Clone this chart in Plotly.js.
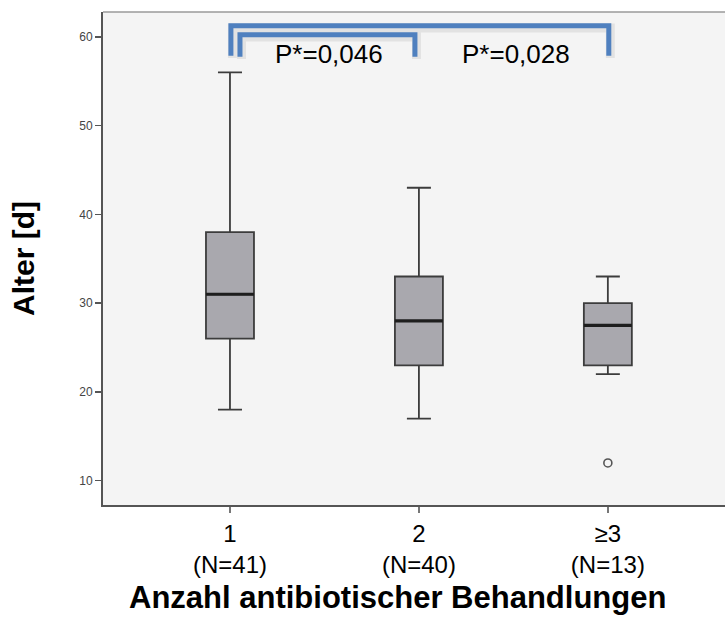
<!DOCTYPE html>
<html>
<head>
<meta charset="utf-8">
<script src="https://cdn.plot.ly/plotly-3.0.1.min.js"></script>
<style>
  html, body { margin: 0; padding: 0; background: #ffffff; }
  #chart { width: 725px; height: 621px; }
</style>
</head>
<body>
<div id="chart"></div>
<script>
// Age at treatment by number of antibiotic courses
const groups = ['1', '2', '≥3'];
const groupN = [41, 40, 13];
const upperWhisker = [56, 43, 33];
const q3 = [38, 33, 30];
const median = [31, 28, 27.5];
const q1 = [26, 23, 23];
const lowerWhisker = [18, 17, 22];
// outliers: [group index, value]
const outlierGroup = [2];
const outlierValue = [12];
const pValueLabels = ['P*=0,046', 'P*=0,028'];
const yTicks = [10, 20, 30, 40, 50, 60];

const FONT = 'Liberation Sans, Arial, Helvetica, sans-serif';
const BOX_W = 0.254;
const pos = groups.map((g, i) => i);

const boxTrace = {
  type: 'box',
  x: pos,
  q1: q1,
  median: median,
  q3: q3,
  lowerfence: lowerWhisker,
  upperfence: upperWhisker,
  width: BOX_W,
  whiskerwidth: 0.5,
  boxpoints: false,
  fillcolor: '#a9a8ae',
  line: { color: '#3c3c3c', width: 1.8 },
  showlegend: false,
  hoverinfo: 'y'
};

// heavier median bars drawn over each box
const medX = [], medY = [];
pos.forEach((p, i) => {
  medX.push(p - BOX_W / 2, p + BOX_W / 2, null);
  medY.push(median[i], median[i], null);
});
const medianTrace = {
  type: 'scatter', mode: 'lines',
  x: medX, y: medY,
  line: { color: '#1e1e1e', width: 3.2 },
  showlegend: false, hoverinfo: 'skip'
};

const outlierTrace = {
  type: 'scatter', mode: 'markers',
  x: outlierGroup, y: outlierValue,
  marker: { symbol: 'circle-open', size: 8, color: '#555555', line: { width: 1.6, color: '#555555' } },
  showlegend: false, hoverinfo: 'y'
};

// significance brackets between groups
function bracketPath(xa, xb, yTop, yBot) {
  return `M ${xa},${yBot} L ${xa},${yTop} L ${xb},${yTop} L ${xb},${yBot}`;
}
const brackets = [
  { xa: 0.005, xb: 2.005, top: 61.24, bot: 57.86 },
  { xa: 0.053, xb: 0.979, top: 60.23, bot: 57.75 }
];
const shapes = [];
brackets.forEach(b => {
  // soft drop shadow
  shapes.push({
    type: 'path', xref: 'x', yref: 'y',
    path: bracketPath(b.xa + 0.008, b.xb + 0.008, b.top - 0.25, b.bot - 0.25),
    line: { color: 'rgba(0,0,0,0.07)', width: 9 }
  });
  shapes.push({
    type: 'path', xref: 'x', yref: 'y',
    path: bracketPath(b.xa, b.xb, b.top, b.bot),
    line: { color: '#4f80bf', width: 5 }
  });
});
// light frame line along the top of the plot area
shapes.push({
  type: 'line', xref: 'paper', yref: 'paper',
  x0: 0, x1: 1, y0: 1, y1: 1,
  line: { color: '#9a9a9a', width: 1.6 }
});

const annotations = [
  { x: 0.526, y: 58.09, text: pValueLabels[0] },
  { x: 1.513, y: 58.09, text: pValueLabels[1] }
].map(a => ({
  xref: 'x', yref: 'y', x: a.x, y: a.y, text: a.text,
  showarrow: false, xanchor: 'center', yanchor: 'middle',
  font: { family: FONT, size: 26, color: '#000000' }
}));
annotations.push({
  xref: 'paper', yref: 'paper', x: 0.4727, y: -0.1886,
  text: 'Anzahl antibiotischer Behandlungen',
  showarrow: false, xanchor: 'center', yanchor: 'middle',
  font: { family: FONT, size: 31, color: '#000000', weight: 'bold' }
});

const layout = {
  width: 725, height: 621,
  margin: { l: 103, r: 0, t: 12, b: 116 },
  paper_bgcolor: '#ffffff',
  plot_bgcolor: '#f4f4f4',
  showlegend: false,
  xaxis: {
    range: [-0.672, 2.62],
    tickvals: pos,
    ticktext: groups.map((g, i) => `${g}<br>(N=${groupN[i]})`),
    ticks: 'outside', ticklen: 6, tickwidth: 1.5, tickcolor: '#777777',
    tickfont: { family: FONT, size: 24, color: '#000000' },
    showgrid: false, zeroline: false,
    showline: true, linecolor: '#555555', linewidth: 2
  },
  yaxis: {
    range: [7.26, 62.8],
    tickvals: yTicks,
    ticks: 'outside', ticklen: 6, tickwidth: 1.5, tickcolor: '#555555',
    tickfont: { family: FONT, size: 12, color: '#444444' },
    showgrid: false, zeroline: false,
    showline: true, linecolor: '#555555', linewidth: 2,
    title: {
      text: 'Alter [d]', standoff: 36,
      font: { family: FONT, size: 30, color: '#000000', weight: 'bold' }
    }
  },
  shapes: shapes,
  annotations: annotations
};

Plotly.newPlot('chart', [boxTrace, medianTrace, outlierTrace], layout, { displayModeBar: false, staticPlot: true });
</script>
</body>
</html>
